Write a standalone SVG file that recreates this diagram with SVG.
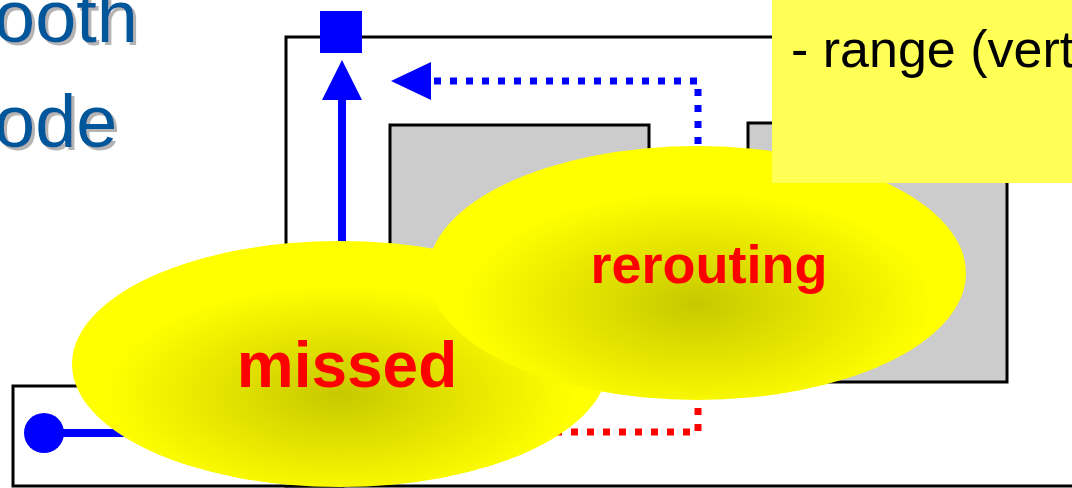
<svg xmlns="http://www.w3.org/2000/svg" width="1072" height="488" viewBox="0 0 1072 488">
  <style>
    .frame { fill: #ffffff; stroke: #000000; stroke-width: 3; }
    .block { fill: #cccccc; stroke: #000000; stroke-width: 3; }
    .title { font-family: "Liberation Sans", Arial, sans-serif; font-size: 74px; fill: #00569a; filter: url(#drop); }
    .solid { fill: none; stroke: #0000ff; stroke-width: 8; }
    .dotted-blue { fill: none; stroke: #0000ff; stroke-width: 7; stroke-dasharray: 7 9; }
    .dotted-red { fill: none; stroke: #ff0000; stroke-width: 7; stroke-dasharray: 7 9; }
    .blob-label { font-family: "Liberation Sans", Arial, sans-serif; font-weight: bold; fill: #ff0000; text-anchor: middle; }
    .note-text { font-family: "Liberation Sans", Arial, sans-serif; font-size: 52px; fill: #000000; }
  </style>
  <defs>
    <radialGradient id="glow" cx="0.5" cy="0.62" r="0.55">
      <stop offset="0" stop-color="#c8c800"/>
      <stop offset="0.8" stop-color="#ffff00"/>
      <stop offset="1" stop-color="#ffff00"/>
    </radialGradient>
    <!-- grey offset shadow behind heading letters -->
    <filter id="drop" x="-10%" y="-10%" width="130%" height="130%">
      <feOffset in="SourceAlpha" dx="3" dy="3" result="off"/>
      <feFlood flood-color="#b4b4b4"/>
      <feComposite in2="off" operator="in" result="shadow"/>
      <feMerge>
        <feMergeNode in="shadow"/>
        <feMergeNode in="SourceGraphic"/>
      </feMerge>
    </filter>
  </defs>

  <!-- heading fragments -->
  <g id="heading">
    <text class="title" x="-6" y="42">ooth</text>
    <text class="title" x="-6" y="147">ode</text>
  </g>

  <!-- outer frame and lower strip -->
  <g id="outer-frame">
    <rect class="frame" x="286" y="37" width="820" height="449"/>
  </g>
  <g id="lower-strip">
    <rect class="frame" x="13" y="386" width="330" height="100"/>
  </g>

  <!-- obstacles -->
  <g id="block-left">
    <rect class="block" x="390" y="125" width="259" height="200"/>
  </g>
  <g id="block-right">
    <rect class="block" x="748" y="123" width="259" height="259"/>
  </g>

  <!-- terminals -->
  <g id="source">
    <circle cx="44" cy="433" r="20" fill="#0000ff"/>
  </g>
  <g id="target">
    <rect x="320" y="11" width="42" height="42" fill="#0000ff"/>
  </g>

  <!-- routes -->
  <g id="connectors">
    <polyline class="solid" points="44,433 342,433 342,98"/>
    <polygon points="342,60 322,100 362,100" fill="#0000ff"/>
    <polyline class="dotted-blue" points="698,240 698,81 431,81"/>
    <polygon points="391,81 431,62 431,100" fill="#0000ff"/>
    <polyline class="dotted-red" points="698,360 698,432 540,432"/>
  </g>

  <!-- highlight blobs -->
  <g id="missed">
    <ellipse cx="340" cy="364" rx="268" ry="123" fill="url(#glow)"/>
    <text class="blob-label" x="347" y="387" font-size="64">missed</text>
  </g>
  <g id="rerouting">
    <ellipse cx="697" cy="273" rx="269" ry="127" fill="url(#glow)"/>
    <text class="blob-label" x="709" y="283" font-size="54">rerouting</text>
  </g>

  <!-- note -->
  <g id="note">
    <rect x="772" y="0" width="300" height="183" fill="#ffff55"/>
    <text class="note-text" x="791" y="67">- range (vert</text>
  </g>
</svg>
